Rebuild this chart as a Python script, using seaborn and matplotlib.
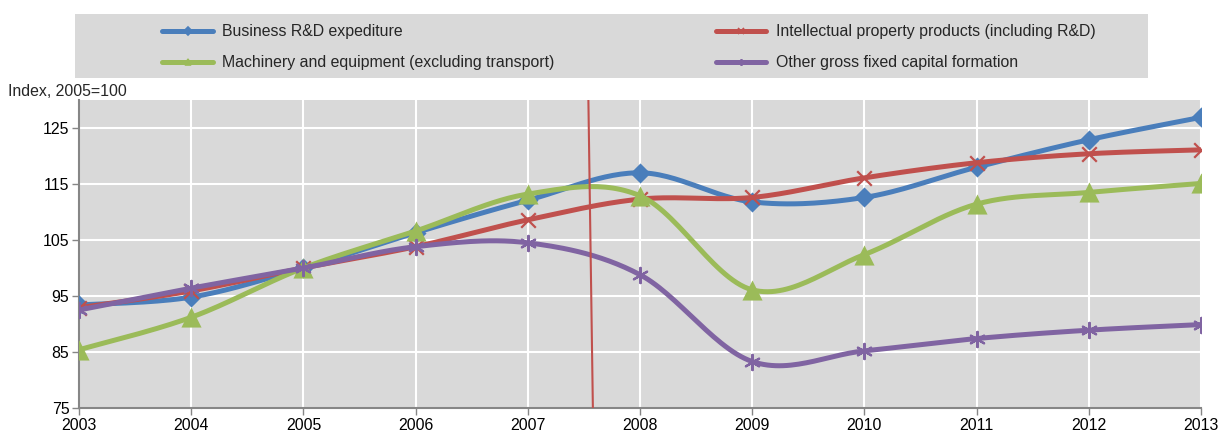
import numpy as np
import pandas as pd
import matplotlib.pyplot as plt
import seaborn as sns
from matplotlib.lines import Line2D
from matplotlib.patches import Rectangle

# ===========================
# DATA
# ===========================
YEARS = [2003, 2004, 2005, 2006, 2007, 2008, 2009, 2010, 2011, 2012, 2013]
BUSINESS_RD = [93.4, 94.8, 100.0, 106.3, 112.1, 117.0, 111.8, 112.6, 118.0, 122.9, 126.9]
INTELLECTUAL = [92.9, 95.9, 100.0, 103.8, 108.6, 112.3, 112.6, 116.1, 118.8, 120.4, 121.1]
MACHINERY = [85.4, 91.2, 100.0, 106.6, 113.2, 112.9, 96.1, 102.4, 111.4, 113.5, 115.1]
OTHER_GFCF = [92.5, 96.4, 100.0, 103.8, 104.5, 98.8, 83.3, 85.2, 87.4, 88.9, 89.9]

SERIES = [
    ("Business R&D expediture", BUSINESS_RD),
    ("Intellectual property products (including R&D)", INTELLECTUAL),
    ("Machinery and equipment (excluding transport)", MACHINERY),
    ("Other gross fixed capital formation", OTHER_GFCF),
]
Y_TICKS = [75, 85, 95, 105, 115, 125]
CRISIS_LINE = (2007.54, 2007.58)  # slightly tilted marker line

# ===========================
# STYLE
# ===========================
COLORS = ["#4a7ebb", "#c0504d", "#9bbb59", "#8064a2"]
STAR = (6, 2, 0)
MARKERS = ["D", "x", "^", STAR]
SIZES = [105, 110, 210, 120]
LEGEND_MS = [4, 5, 5, 5]
FS = 11.4

sns.set_style("darkgrid", {"axes.facecolor": "#d9d9d9", "grid.color": "white"})
plt.rcParams["font.family"] = ["Liberation Sans", "DejaVu Sans"]


def smooth(x, y, n=30):
    # Excel-like smoothed line (Catmull-Rom Bezier), for drawing only
    x = np.asarray(x, float)
    y = np.asarray(y, float)
    px = np.concatenate([[x[0]], x, [x[-1]]])
    py = np.concatenate([[y[0]], y, [y[-1]]])
    xs, ys = [], []
    t = np.linspace(0, 1, n)
    for i in range(1, len(px) - 2):
        p0 = np.array([px[i], py[i]])
        p3 = np.array([px[i + 1], py[i + 1]])
        c1 = p0 + (p3 - np.array([px[i - 1], py[i - 1]])) / 6
        c2 = p3 - (np.array([px[i + 2], py[i + 2]]) - p0) / 6
        pts = ((1 - t) ** 3)[:, None] * p0 + (3 * (1 - t) ** 2 * t)[:, None] * c1 \
            + (3 * (1 - t) * t ** 2)[:, None] * c2 + (t ** 3)[:, None] * p3
        xs.extend(pts[:, 0])
        ys.extend(pts[:, 1])
    return np.array(xs), np.array(ys)


fig = plt.figure(figsize=(12.21, 4.34), dpi=100)
ax = fig.add_axes([79 / 1221, 1 - 408 / 434, (1201 - 79) / 1221, (408 - 100) / 434])

for i, ((name, vals), color, marker, size) in enumerate(zip(SERIES, COLORS, MARKERS, SIZES)):
    sx, sy = smooth(YEARS, vals)
    curve = pd.DataFrame({"x": sx, "y": sy})
    sns.lineplot(data=curve, x="x", y="y", ax=ax, color=color, linewidth=3.6,
                 sort=False, estimator=None, zorder=3 + i * 2, solid_capstyle="round")
    pts = pd.DataFrame({"Year": YEARS, "Index": vals})
    if marker in ("x", STAR):
        sns.scatterplot(data=pts, x="Year", y="Index", ax=ax, marker=marker, s=size,
                        color=color, linewidth=1.6, zorder=4 + i * 2, legend=False)
    else:
        sns.scatterplot(data=pts, x="Year", y="Index", ax=ax, marker=marker, s=size,
                        color=color, edgecolor=color, linewidth=0, zorder=4 + i * 2,
                        legend=False)

# tilted red vertical line
ax.plot([CRISIS_LINE[0], CRISIS_LINE[1]], [130, 75], color="#c0504d", linewidth=1.5, zorder=20)

ax.set_xlim(YEARS[0], YEARS[-1])
ax.set_ylim(75, 130)
ax.set_xticks(YEARS)
ax.set_yticks(Y_TICKS)
ax.set_xlabel("")
ax.set_ylabel("")
ax.grid(True, color="white", linewidth=1.5)
for side in ["top", "right"]:
    ax.spines[side].set_visible(False)
for side in ["left", "bottom"]:
    ax.spines[side].set_visible(True)
    ax.spines[side].set_color("#868686")
    ax.spines[side].set_linewidth(1.5)
ax.tick_params(axis="both", which="major", direction="out", length=5, width=1,
               color="#868686", labelsize=FS, labelcolor="black", pad=2, left=True, bottom=True)

fig.text(8 / 1221, 1 - 92 / 434, "Index, 2005=100", fontsize=FS, va="center", ha="left")

# legend with grey band behind it
fig.patches.append(Rectangle((75 / 1221, 1 - 78 / 434), (1148 - 75) / 1221, 64 / 434,
                             transform=fig.transFigure, facecolor="#d9d9d9",
                             edgecolor="none", zorder=0))
handles = [Line2D([0], [0], color=c, linewidth=3.6, marker=m, markersize=ms,
                  markeredgewidth=1.2)
           for c, m, ms in zip(COLORS, MARKERS, LEGEND_MS)]
labels = [s[0] for s in SERIES]
order = [0, 2, 1, 3]
fig.legend([handles[k] for k in order], [labels[k] for k in order],
           loc="upper left", bbox_to_anchor=(148 / 1221, 1 - 10 / 434), ncol=2,
           frameon=False, fontsize=FS, handlelength=3.2, handletextpad=0.57,
           columnspacing=10.2, labelspacing=1.0)

fig.savefig("out.png", dpi=100)
